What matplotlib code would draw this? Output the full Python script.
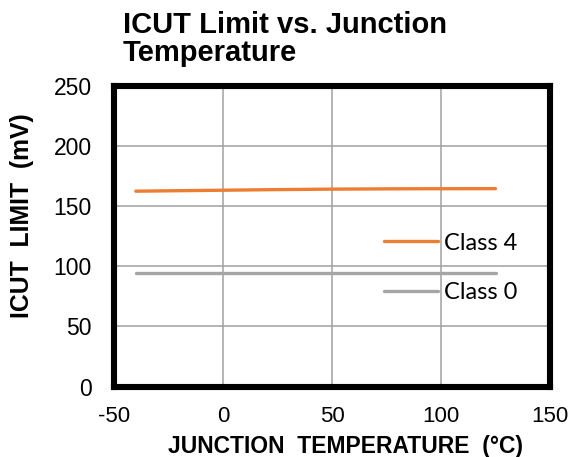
import matplotlib.pyplot as plt

# data
temp = [-40, 0, 25, 50, 85, 125]
class4 = [162.5, 163.3, 163.8, 164.2, 164.5, 164.6]
class0 = [94.4, 94.4, 94.4, 94.4, 94.4, 94.4]

xticks = [-50, 0, 50, 100, 150]
yticks = [0, 50, 100, 150, 200, 250]

W, H = 574, 457
fig = plt.figure(figsize=(W / 100, H / 100), dpi=100)
ax = fig.add_axes([114 / W, 1 - 386.5 / H, 436 / W, 300.5 / H])

ax.plot(temp, class4, color='#ED7D31', lw=2.4, label='Class 4', solid_capstyle='round')
ax.plot(temp, class0, color='#A5A5A5', lw=2.4, label='Class 0', solid_capstyle='round')

ax.set_xlim(-50, 150)
ax.set_ylim(0, 250)
ax.set_xticks(xticks)
ax.set_xticklabels([str(t) for t in xticks], family='Liberation Sans', fontsize=16)
ax.set_yticks(yticks)
ax.set_yticklabels([str(t) for t in yticks], family='Liberation Sans', fontsize=16.5)
ax.grid(True, color='#A0A0A0', lw=1.1)
ax.set_axisbelow(True)
ax.tick_params(axis='x', length=0, pad=14)
ax.tick_params(axis='y', length=0, pad=16)

for s in ax.spines.values():
    s.set_linewidth(4.4)
    s.set_color('black')
    s.set_capstyle('projecting')

fig.text(345.8 / W, 1 - 453.3 / H, 'JUNCTION  TEMPERATURE  (\u00b0C)', fontsize=16.5,
         fontweight='bold', family='Liberation Sans', ha='center', va='baseline')
fig.text(22 / W, 1 - 216 / H, 'ICUT  LIMIT  (mV)', fontsize=17.8, fontweight='bold',
         family='Liberation Sans', ha='center', va='center', rotation=90)

fig.text(123 / W, 1 - 33.3 / H, 'ICUT Limit vs. Junction', fontsize=21,
         fontweight='bold', family='Liberation Sans', ha='left', va='baseline')
fig.text(123 / W, 1 - 61 / H, 'Temperature', fontsize=21,
         fontweight='bold', family='Liberation Sans', ha='left', va='baseline')

leg = ax.legend(loc='upper left', bbox_to_anchor=(384.3 / W, 1 - 232.5 / H),
                bbox_transform=fig.transFigure, frameon=False, borderpad=0,
                borderaxespad=0, prop={'family': 'Lato', 'size': 17},
                handlelength=2.29, handletextpad=0.24, labelspacing=1.21)

fig.savefig('out.png', dpi=100)
